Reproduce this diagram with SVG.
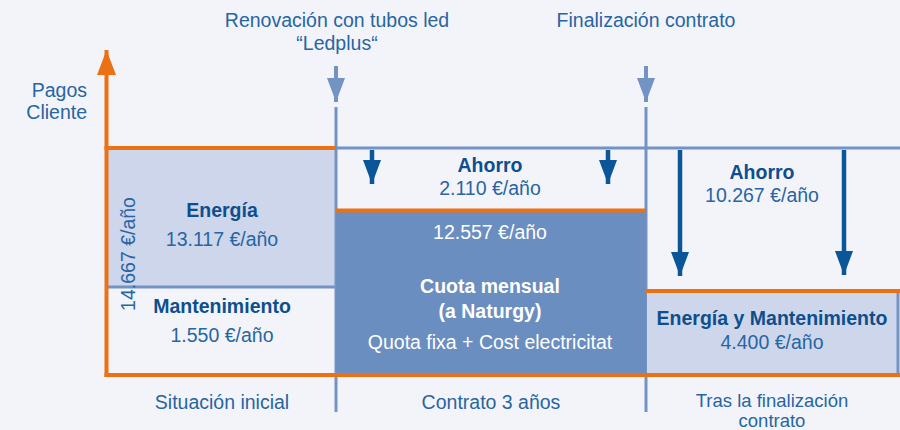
<svg xmlns="http://www.w3.org/2000/svg" width="900" height="430" viewBox="0 0 900 430">
  <defs>
    <style>
      .t{font-family:"Liberation Sans",Arial,sans-serif;font-size:19.5px;fill:#2765a3;text-anchor:middle}
      .b{font-weight:bold;fill:#0d4f8e}
      .w{fill:#ffffff}
      .s{font-size:18.5px}
      .ax{stroke:#ec7115;stroke-width:4;fill:none}
      .gl{stroke:#7393c4;stroke-width:3;fill:none}
      .dk{stroke:#0a5699;stroke-width:4.5;fill:none}
      .lt{stroke:#7393c4;stroke-width:4;fill:none}
    </style>
    <marker id="mDark" markerUnits="userSpaceOnUse" markerWidth="24" markerHeight="18" viewBox="0 0 24 18" refX="24" refY="9" orient="auto">
      <path d="M0,0 L24,9 L0,18 Z" fill="#0a5699"/>
    </marker>
    <marker id="mLight" markerUnits="userSpaceOnUse" markerWidth="24" markerHeight="18" viewBox="0 0 24 18" refX="24" refY="9" orient="auto">
      <path d="M0,0 L24,9 L0,18 Z" fill="#7393c4"/>
    </marker>
    <marker id="mOrange" markerUnits="userSpaceOnUse" markerWidth="25" markerHeight="19" viewBox="0 0 25 19" refX="25" refY="9.5" orient="auto">
      <path d="M0,0 L25,9.5 L0,19 Z" fill="#ec7115"/>
    </marker>
  </defs>
  <rect x="0" y="0" width="900" height="430" fill="#f3f4fa"/>

  <!-- background boxes -->
  <g id="energia">
    <rect x="108" y="150" width="228" height="136" fill="#cdd6ea"/>
    <text class="t b" x="222" y="217">Energía</text>
    <text class="t" x="222" y="246">13.117 €/año</text>
  </g>
  <g id="mantenimiento">
    <line class="gl" x1="108" y1="287" x2="336" y2="287"/>
    <text class="t b" x="222" y="313">Mantenimiento</text>
    <text class="t" x="222" y="342">1.550 €/año</text>
  </g>

  <!-- grid lines -->
  <g id="grid">
    <line class="gl" x1="336" y1="148" x2="900" y2="148"/>
    <line class="gl" x1="336" y1="107" x2="336" y2="412"/>
    <line class="gl" x1="646" y1="107" x2="646" y2="412"/>
  </g>

  <g id="ahorro1">
    <text class="t b" x="490" y="172">Ahorro</text>
    <text class="t" x="490" y="195">2.110 €/año</text>
  </g>

  <g id="cuota">
    <rect x="336" y="212" width="310" height="161" fill="#6a8ebf"/>
    <line class="ax" x1="336" y1="210.5" x2="646" y2="210.5"/>
    <text class="t w" x="490" y="239">12.557 €/año</text>
    <text class="t b w" x="490" y="293">Cuota mensual</text>
    <text class="t b w" x="490" y="318">(a Naturgy)</text>
    <text class="t w" x="490" y="349">Quota fixa + Cost electricitat</text>
  </g>

  <g id="ahorro2">
    <text class="t b" x="762" y="179">Ahorro</text>
    <text class="t" x="762" y="202">10.267 €/año</text>
  </g>

  <g id="energia-mantenimiento">
    <rect x="647" y="293" width="251" height="80" fill="#cdd6ea"/>
    <line class="gl" x1="898" y1="293" x2="898" y2="373"/>
    <line class="ax" x1="646" y1="291" x2="900" y2="291"/>
    <text class="t b" x="772" y="325">Energía y Mantenimiento</text>
    <text class="t" x="772" y="349">4.400 €/año</text>
  </g>

  <!-- axes -->
  <g id="axes">
    <line class="ax" x1="106.5" y1="377" x2="106.5" y2="50" marker-end="url(#mOrange)"/>
    <line class="ax" x1="104.5" y1="148" x2="336" y2="148"/>
    <line class="ax" x1="104.5" y1="375" x2="900" y2="375"/>
    <text class="t" x="87" y="97" style="text-anchor:end">Pagos</text>
    <text class="t" x="87" y="119" style="text-anchor:end">Cliente</text>
    <text class="t" transform="translate(135,254) rotate(-90)" x="0" y="0">14.667 €/año</text>
  </g>

  <!-- labels -->
  <g id="labels">
    <text class="t" x="337" y="27">Renovación con tubos led</text>
    <text class="t" x="337" y="50">“Ledplus“</text>
    <text class="t" x="646" y="27">Finalización contrato</text>
    <text class="t" x="222" y="409">Situación inicial</text>
    <text class="t" x="491" y="409">Contrato 3 años</text>
    <text class="t s" x="772" y="407">Tras la finalización</text>
    <text class="t s" x="772" y="427">contrato</text>
  </g>

  <!-- connectors -->
  <g id="connectors">
    <line class="lt" x1="336" y1="66" x2="336" y2="102" marker-end="url(#mLight)"/>
    <line class="lt" x1="646" y1="66" x2="646" y2="102" marker-end="url(#mLight)"/>
    <line class="dk" x1="372" y1="150" x2="372" y2="184" marker-end="url(#mDark)"/>
    <line class="dk" x1="608" y1="150" x2="608" y2="184" marker-end="url(#mDark)"/>
    <line class="dk" x1="680" y1="150" x2="680" y2="276" marker-end="url(#mDark)"/>
    <line class="dk" x1="844" y1="150" x2="844" y2="275" marker-end="url(#mDark)"/>
  </g>
</svg>
